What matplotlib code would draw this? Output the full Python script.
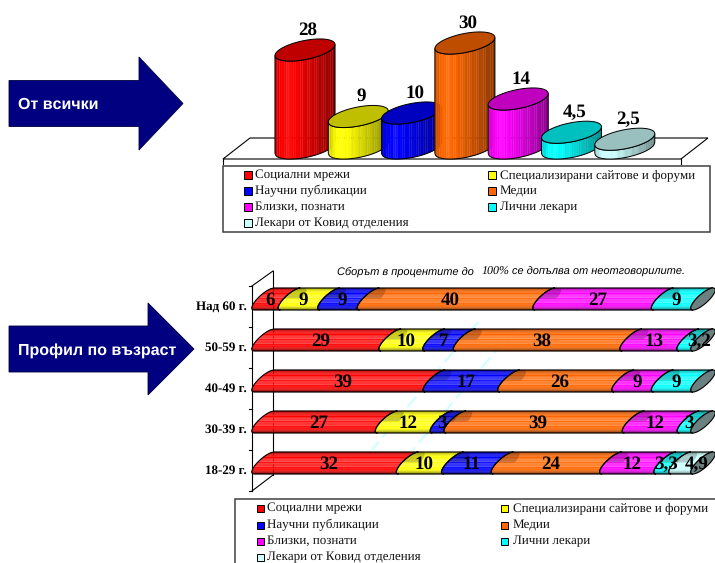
#!/usr/bin/env python3
import numpy as np
import matplotlib
matplotlib.use('Agg')
import matplotlib.pyplot as plt
from matplotlib.patches import Polygon, Rectangle
from matplotlib.colors import to_rgb

plt.rcParams['text.hinting'] = 'no_hinting'
plt.rcParams['text.hinting_factor'] = 1

W, H = 715, 563

series = ['Социални мрежи', 'Специализирани сайтове и форуми', 'Научни публикации',
          'Медии', 'Близки, познати', 'Лични лекари', 'Лекари от Ковид отделения']
colors = ['#ff0000', '#ffff00', '#0000ff', '#ff6600', '#ff00ff', '#00ffff', '#ccffff']

# top chart
all_values = [28, 9, 10, 30, 14, 4.5, 2.5]
all_labels = ['28', '9', '10', '30', '14', '4,5', '2,5']

# bottom chart, bottom row first
ages = ['18-29 г.', '30-39 г.', '40-49 г.', '50-59 г.', 'Над 60 г.']
social = [32, 27, 39, 29, 6]
special = [10, 12, 0, 10, 9]
papers = [11, 3, 17, 7, 9]
media = [24, 39, 26, 38, 40]
close = [12, 12, 9, 13, 27]
doctors = [3.3, 3, 9, 3.2, 9]
covid = [4.9, 0, 0, 0, 0]
age_table = np.array([social, special, papers, media, close, doctors, covid], dtype=float)

# labels pushed right by hand in the original, (row, series): pixels
label_shift = {(0, 6): 12, (3, 5): 10}


def shade(col, k):
    c = np.array(to_rgb(col))
    if k > 1:
        return tuple(c + (1 - c) * (k - 1))
    return tuple(c * k)


def px_axes(fig, left, right, top, bottom):
    return fig.add_axes([left / W, 1 - bottom / H, (right - left) / W, (bottom - top) / H])


fig = plt.figure(figsize=(W / 100, H / 100), dpi=100)
bg = fig.add_axes([0, 0, 1, 1])
bg.set_xlim(0, W)
bg.set_ylim(H, 0)
bg.axis('off')

SERIF = 'Liberation Serif'
SANS = 'Liberation Sans'


def arrow(ax, x0, x1, x2, ytip, shaft, head, text, tx, ty_):
    pts = [(x0, ytip - shaft), (x1, ytip - shaft), (x1, ytip - head), (x2, ytip),
           (x1, ytip + head), (x1, ytip + shaft), (x0, ytip + shaft)]
    ax.add_patch(Polygon(pts, closed=True, fc='#000080', ec='#000040', lw=0.6))
    ax.text(tx, ty_, text, color='white', fontsize=11.8, fontweight='bold',
            family=SANS, va='center', ha='left')


arrow(bg, 9, 139, 183, 103.5, 23, 46.5, 'От всички', 18, 105)
arrow(bg, 9, 148, 194, 349, 23, 46, 'Профил по възраст', 18, 351)


def legend(ax, box, rows, sw_x, txt_x, sw):
    ax.add_patch(Rectangle((box[0], box[1]), box[2] - box[0], box[3] - box[1], fc='white',
                           ec='#404040', lw=1.1, clip_on=True))
    for n, name in enumerate(series):
        col = n % 2
        y = rows[n // 2]
        ax.add_patch(Rectangle((sw_x[col], y - sw / 2), sw, sw, fc=colors[n], ec='black', lw=0.7))
        ax.text(txt_x[col], y, name, fontsize=9.3, family=SERIF, va='center', ha='left', color='#111111')


# ---- top chart
top = px_axes(fig, 278.35, 651.45, 36, 148)
top.set_xlim(-0.5, 6.5)
top.set_ylim(0, 32)
top.axis('off')
X_PX = (651.45 - 278.35) / 7
Y_PX = 112 / 32

floor = [(250, 138), (708, 138), (681, 159), (223, 159)]
bg.add_patch(Polygon(floor, closed=True, fc='white', ec='black', lw=0.8, zorder=0.5))
bg.plot([681, 681], [159, 164], color='black', lw=0.8, zorder=0.5)
bg.plot([223, 223], [159, 164], color='black', lw=0.8, zorder=0.5)
legend(bg, (223, 166, 710, 232), [175, 191, 207, 223], (243.5, 488), (255, 500), 8)

for i, (v, lab, col) in enumerate(zip(all_values, all_labels, colors)):
    A, SK, B = 30, 5.5, 9.6
    def tx(dx):
        return i + dx / X_PX
    def ty(val, dy):
        return val - dy / Y_PX
    us = np.linspace(-1, 1, 27)
    for j, (u0, u1) in enumerate(zip(us[:-1], us[1:])):
        um = (u0 + u1) / 2
        k = 0.85 + 0.55 * (um + 1) if um < -0.6 else 1.08 - 0.52 * (um + 0.6) / 1.6
        if j % 3 == 1:
            k = k * 0.96
        uu = np.linspace(u0, u1, 5)
        low = -SK * uu + B * np.sqrt(np.clip(1 - uu ** 2, 0, 1))
        xs = np.r_[tx(A * uu), tx(A * uu[::-1])]
        ys = np.r_[ty(v, low), ty(0, low[::-1])]
        top.add_patch(Polygon(np.c_[xs, ys], closed=True, fc=shade(col, k), ec=shade(col, k),
                              lw=0.2, clip_on=False, zorder=2 + i))
    t = np.linspace(0, 2 * np.pi, 90)
    edge_dy = -SK * np.cos(t) + B * np.sin(t)
    uu = np.linspace(-1, 1, 60)
    low = -SK * uu + B * np.sqrt(1 - uu ** 2)
    outline = np.c_[np.r_[tx(A * uu), tx(A * uu[::-1])], np.r_[ty(v, low), ty(0, low[::-1])]]
    top.add_patch(Polygon(outline, closed=True, fill=False, ec='black', lw=0.7, clip_on=False, zorder=2 + i))
    top.add_patch(Polygon(np.c_[tx(A * np.cos(t)), ty(v, edge_dy)], closed=True, fc=shade(col, 0.75),
                          ec='black', lw=0.7, clip_on=False, zorder=2 + i))
    top.text(i + 3 / X_PX, v + 20 / Y_PX, lab, fontsize=13.5, fontweight='bold', family=SERIF,
             ha='center', va='center', zorder=20, clip_on=False)

# ---- bottom chart
bg.plot([478, 372], [322, 450], color='#ccffff', lw=1.4, ls=(0, (7, 3)), zorder=0.4)
bg.plot([515, 413], [328, 450], color='#ccffff', lw=1.4, ls=(0, (7, 3)), zorder=0.4)
bg.plot([252, 252], [286, 491], color='black', lw=0.8, zorder=0.5)
bg.plot([273, 273], [271, 475], color='black', lw=0.8, zorder=0.5)
bg.plot([252, 273], [286, 271], color='black', lw=0.8, zorder=0.5)
bg.plot([252, 273], [491, 475], color='black', lw=0.8, zorder=0.5)
for ty_ in np.linspace(286, 491, 6):
    bg.plot([249, 252], [ty_, ty_], color='black', lw=0.8, zorder=0.5)

bot = px_axes(fig, 254, 693, 278.5, 483.5)
bot.set_xlim(0, 100)
bot.set_ylim(-0.5, 4.5)
bot.axis('off')
XP = 439 / 100
YP = 41.0
HALF, RUN, K = 11, 10, 7

STRIPE = [0.55, 0.68, 0.85, 1.0, 1.12, 1.0, 1.2, 1.0, 1.25, 1.08, 1.25, 1.05, 1.18, 1.0, 1.1, 0.95, 0.85, 0.7]
rows_s = np.linspace(-1, 1, len(STRIPE) + 1)


def left_arc(s):
    return RUN * (s + 1) - K * np.sqrt(np.clip(1 - s ** 2, 0, 1))


for r, age in enumerate(ages):
    vals = age_table[:, r]
    pct = vals / vals.sum() * 100
    start = 0.0
    for n, (v, p) in enumerate(zip(vals, pct)):
        if v == 0:
            continue
        col = colors[n]
        for j, k in enumerate(STRIPE):
            ss = np.linspace(rows_s[j], rows_s[j + 1], 4)
            xs = np.r_[start + left_arc(ss) / XP, (start + p + left_arc(ss[::-1]) / XP)]
            ys = np.r_[r + ss * HALF / YP, r + ss[::-1] * HALF / YP]
            bot.add_patch(Polygon(np.c_[xs, ys], closed=True, fc=shade(col, k), ec=shade(col, k),
                                  lw=0.15, clip_on=False, zorder=3))
        # darker inset where the segment starts
        ss = np.linspace(0.05, 1, 16)
        xs = np.r_[start + left_arc(ss) / XP, start + (RUN * (ss[::-1] + 1) + K * np.sqrt(1 - ss[::-1] ** 2) + 4) / XP]
        ys = np.r_[r + ss * HALF / YP, r + ss[::-1] * HALF / YP]
        if start > 0:
            bot.add_patch(Polygon(np.c_[xs, ys], closed=True, fc='black', ec='none', alpha=0.2,
                                  clip_on=False, zorder=3.5))
        ss = np.linspace(-1, 1, 40)
        xs = np.r_[start + left_arc(ss) / XP, (start + p + left_arc(ss[::-1]) / XP)]
        ys = np.r_[r + ss * HALF / YP, r + ss[::-1] * HALF / YP]
        bot.add_patch(Polygon(np.c_[xs, ys], closed=True, fill=False, ec='black', lw=0.8,
                              clip_on=False, zorder=4))
        label = f'{v:g}'.replace('.', ',')
        shift = label_shift.get((r, n), 0)
        bot.text(start + p / 2 + (3 + shift) / XP, r - 1 / YP, label, fontsize=13.5, fontweight='bold',
                 family=SERIF, ha='center', va='center', zorder=6, clip_on=False)
        start += p
    ss = np.linspace(0, 2 * np.pi, 80)
    cap_s = np.sin(ss)
    cap_x = 100 + (RUN * (cap_s + 1) + K * np.cos(ss)) / XP
    bot.add_patch(Polygon(np.c_[cap_x, r + cap_s * HALF / YP], closed=True, fc='#6b8080', ec='black',
                          lw=0.8, clip_on=False, zorder=5))
    bg.text(247, 471 - (r * 41), age, fontsize=9.6, fontweight='bold', family=SERIF, ha='right', va='center')

# note above the bottom chart
bg.text(337, 272, 'Сборът в процентите до', fontsize=8.15, style='italic', family=SANS, va='center')
bg.text(482, 272, '100%', fontsize=8.3, style='italic', family=SERIF, va='center')
bg.text(512, 272, 'се допълва от неотговорилите.', fontsize=8.15, style='italic', family=SANS, va='center')

legend(bg, (235, 499, 725, 575), [508, 525, 541, 557], (257, 501), (267, 513), 7)

fig.savefig('out.png', dpi=100)
